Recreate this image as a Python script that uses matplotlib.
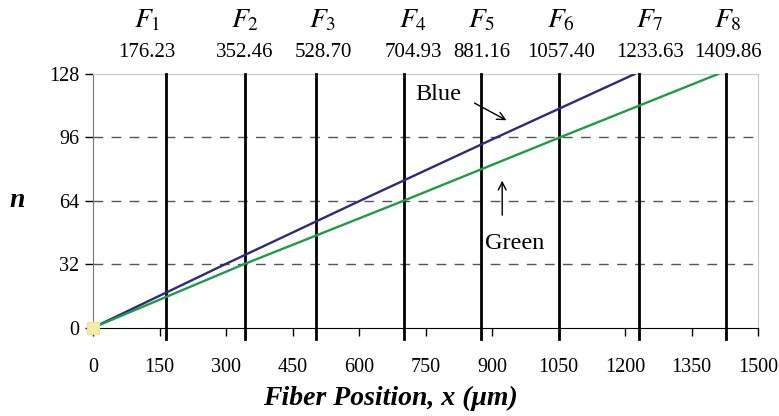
import matplotlib
matplotlib.use("Agg")
import matplotlib.pyplot as plt

# ---- data ----
blue_x = [0, 298, 602, 910, 1222]
blue_n = [0, 32, 64, 96, 128]
green_x = [0, 340, 700, 1053, 1410]
green_n = [0, 32, 64, 96, 128]

f_names = ["1", "2", "3", "4", "5", "6", "7", "8"]
f_values = ["176.23", "352.46", "528.70", "704.93", "881.16", "1057.40", "1233.63", "1409.86"]
f_line_x = [165, 343, 503, 702, 875, 1051, 1232, 1428]
f_label_x = [122, 343, 519, 722, 877, 1056, 1256, 1432]

x_ticks = [0, 150, 300, 450, 600, 750, 900, 1050, 1200, 1350, 1500]
y_ticks = [0, 32, 64, 96, 128]

plt.rcParams['font.family'] = ['Liberation Serif', 'DejaVu Serif']
plt.rcParams['mathtext.fontset'] = 'stix'

fig = plt.figure(figsize=(7.79, 4.16), dpi=100)
ax = fig.add_axes([93/779, 1-327.7/416, (758-93)/779, (327.7-74)/416])
ax.set_xlim(0, 1500)
ax.set_ylim(0, 128)

for yv in y_ticks[1:-1]:
    ax.axhline(yv, color='#555555', lw=1.0, dashes=(7, 6), zorder=1)

for xv in f_line_x:
    ax.plot([xv, xv], [-5.5, 128], color='black', lw=2.0, clip_on=False, zorder=3)

ax.plot(blue_x, blue_n, color='#2e2a7c', lw=1.7, zorder=4)
ax.plot(green_x, green_n, color='#1f9a4a', lw=1.7, zorder=4)
ax.plot([0], [0], marker='s', ms=8, color='#f3eea6', mec='#e8e0a0', clip_on=False, zorder=5)

for name, val, lx in zip(f_names, f_values, f_label_x):
    ax.text(lx, 1.21, r"$F_{\mathit{" + name + "}}$", transform=ax.get_xaxis_transform(),
            ha='center', va='center', fontsize=20)
    ax.text(lx, 1.085, val, transform=ax.get_xaxis_transform(),
            ha='center', va='center', fontsize=15)

ax.annotate("", xy=(938, 104), xytext=(855, 114),
            arrowprops=dict(arrowstyle='->', color='black', lw=1.0, mutation_scale=14))
ax.text(778, 117.5, "Blue", ha='center', va='center', fontsize=17.5)
ax.annotate("", xy=(923, 75.6), xytext=(923, 55.4),
            arrowprops=dict(arrowstyle='->', color='black', lw=1.0, mutation_scale=14))
ax.text(952, 42.3, "Green", ha='center', va='center', fontsize=17.5)

ax.set_xticks(x_ticks)
ax.set_yticks(y_ticks)
ax.tick_params(axis='x', direction='out', length=6, width=1, pad=16, labelsize=14.5)
ax.tick_params(axis='y', direction='out', length=6, width=1, pad=4, labelsize=14.5)

ax.spines['bottom'].set_color('black')
ax.spines['left'].set_color('#777777')
ax.spines['top'].set_color('#c8c8c8')
ax.spines['right'].set_color('#c8c8c8')

fig.text(390/779, 1-398/416, "Fiber Position, x (μm)", ha='center', va='center',
         fontsize=20, fontweight='bold', fontstyle='italic')
fig.text(17/779, 1-200/416, "n", ha='center', va='center',
         fontsize=20, fontweight='bold', fontstyle='italic')

fig.savefig("out.png", dpi=100)
